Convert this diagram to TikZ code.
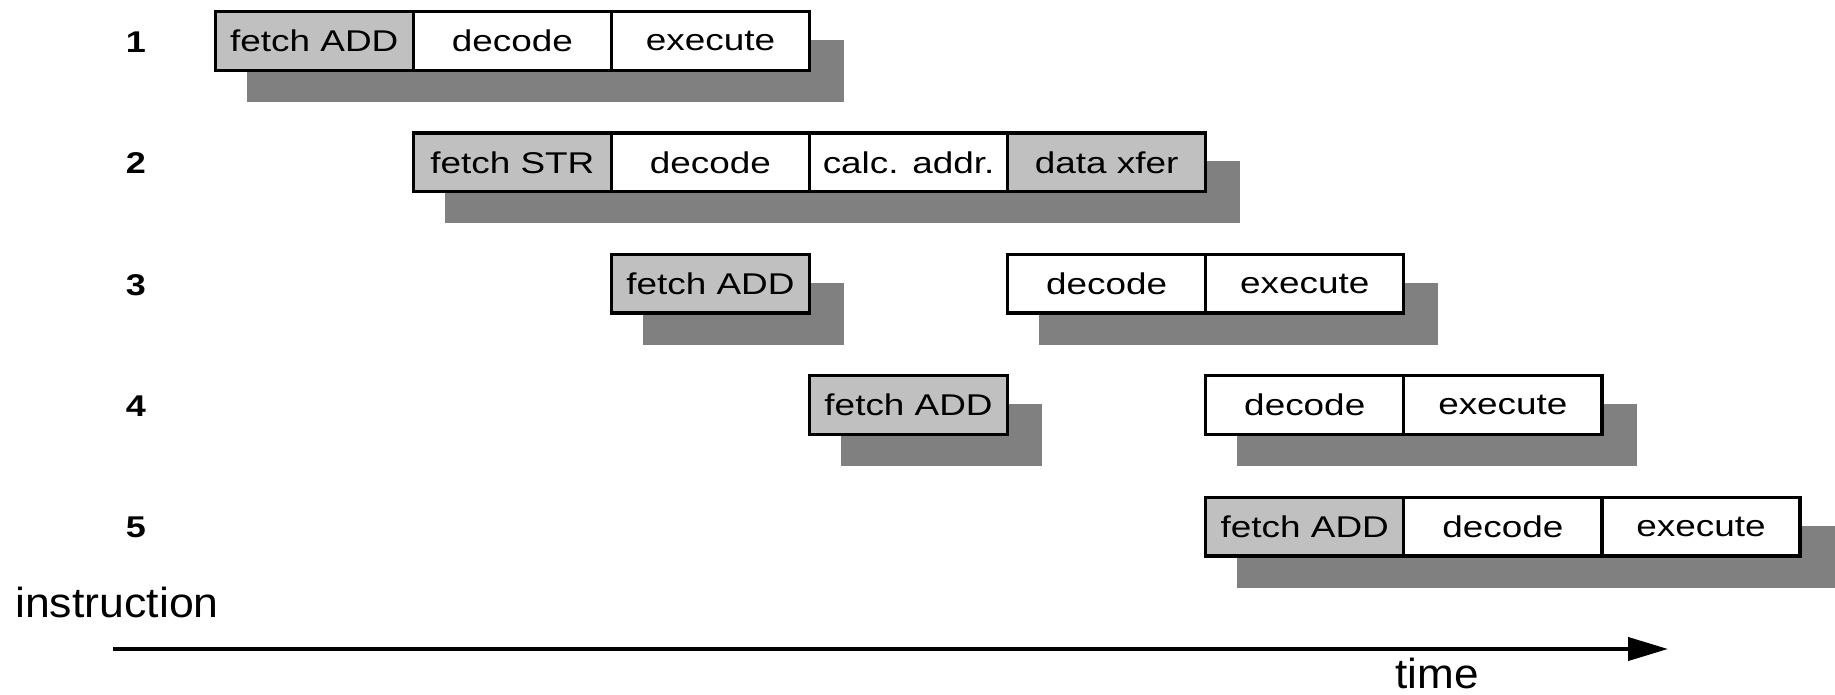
\documentclass[tikz,border=0pt]{standalone}
\usepackage{fontspec}
\setmainfont{Liberation Sans}
\usetikzlibrary{calc,arrows.meta}
\definecolor{fetchgray}{HTML}{C0C0C0}
\definecolor{shadowgray}{HTML}{808080}
\pgfdeclarelayer{bg}
\pgfsetlayers{bg,main}
\newcommand{\sx}[1]{\scalebox{1.23}[1]{#1}}
\tikzset{
  cell/.style={draw=black, line width=3.3pt, minimum width=198.1pt, minimum height=58.7pt,
    inner sep=0pt, outer sep=0pt, anchor=north west, font=\fontsize{30}{36}\selectfont},
  fetchc/.style={cell, fill=fetchgray},
  plainc/.style={cell, fill=white},
  rowlabel/.style={inner sep=0pt, font=\fontsize{30}{36}\selectfont\bfseries},
  shadowbox/.style={fill=shadowgray},
  biglabel/.style={inner sep=0pt, anchor=base west, font=\fontsize{42}{50}\selectfont},
  timearrow/.style={line width=4pt, -{Triangle[length=40pt,width=23pt]}}
}
\begin{document}
\begin{tikzpicture}[x=1pt,y=-1pt]
\useasboundingbox (0,0) rectangle (1835,695);
% row labels
\foreach \r in {1,...,5}{
  \node[rowlabel] (lab\r) at (136,{42+121.4*(\r-1)}) {\scalebox{1.2}[1]{\r}};
}
% row 1
\node[fetchc] (r1a) at ({215.2+198.1*0},11.6) {\sx{fetch ADD}};
\node[plainc] (r1b) at ({215.2+198.1*1},11.6) {\sx{decode}};
\node[plainc] (r1c) at ({215.2+198.1*2},11.6) {\sx{execute}};
% row 2
\node[fetchc] (r2a) at ({215.2+198.1*1},133) {\sx{fetch STR}};
\node[plainc] (r2b) at ({215.2+198.1*2},133) {\sx{decode}};
\node[plainc] (r2c) at ({215.2+198.1*3},133) {\sx{calc. addr.}};
\node[fetchc] (r2d) at ({215.2+198.1*4},133) {\sx{data xfer}};
% row 3
\node[fetchc] (r3a) at ({215.2+198.1*2},254.4) {\sx{fetch ADD}};
\node[plainc] (r3b) at ({215.2+198.1*4},254.4) {\sx{decode}};
\node[plainc] (r3c) at ({215.2+198.1*5},254.4) {\sx{execute}};
% row 4
\node[fetchc] (r4a) at ({215.2+198.1*3},375.8) {\sx{fetch ADD}};
\node[plainc] (r4b) at ({215.2+198.1*5},375.8) {\sx{decode}};
\node[plainc] (r4c) at ({215.2+198.1*6},375.8) {\sx{execute}};
% row 5
\node[fetchc] (r5a) at ({215.2+198.1*5},497.2) {\sx{fetch ADD}};
\node[plainc] (r5b) at ({215.2+198.1*6},497.2) {\sx{decode}};
\node[plainc] (r5c) at ({215.2+198.1*7},497.2) {\sx{execute}};
% shadows
\begin{pgfonlayer}{bg}
  \fill[shadowbox] ($(r1a.north west)+(31.35,28.35)$) rectangle ($(r1c.south east)+(34.65,31.65)$);
  \fill[shadowbox] ($(r2a.north west)+(31.35,28.35)$) rectangle ($(r2d.south east)+(34.65,31.65)$);
  \fill[shadowbox] ($(r3a.north west)+(31.35,28.35)$) rectangle ($(r3a.south east)+(34.65,31.65)$);
  \fill[shadowbox] ($(r3b.north west)+(31.35,28.35)$) rectangle ($(r3c.south east)+(34.65,31.65)$);
  \fill[shadowbox] ($(r4a.north west)+(31.35,28.35)$) rectangle ($(r4a.south east)+(34.65,31.65)$);
  \fill[shadowbox] ($(r4b.north west)+(31.35,28.35)$) rectangle ($(r4c.south east)+(34.65,31.65)$);
  \fill[shadowbox] ($(r5a.north west)+(31.35,28.35)$) rectangle ($(r5c.south east)+(34.65,31.65)$);
\end{pgfonlayer}
% axis
\node[biglabel] (instr) at (15,617) {\scalebox{1.063}[1]{instruction}};
\coordinate (t0) at (113,649);
\coordinate (t1) at (1668,649);
\draw[timearrow] (t0) -- (t1);
\node[biglabel] (timelab) at (1395,688) {\scalebox{1.05}[1]{time}};
\end{tikzpicture}
\end{document}
